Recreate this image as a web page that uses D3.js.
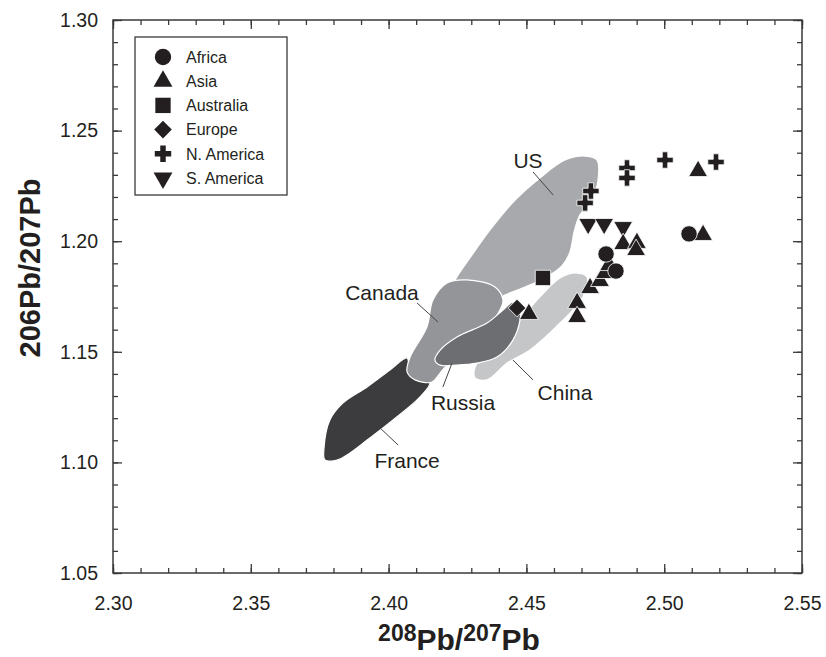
<!DOCTYPE html>
<html>
<head>
<meta charset="utf-8">
<script src="https://cdn.jsdelivr.net/npm/d3@7"></script>
<style>
  html, body { margin: 0; padding: 0; background: #fff; }
  svg { display: block; font-family: "Liberation Sans", Arial, Helvetica, sans-serif; }
</style>
</head>
<body>
<svg id="chart" width="826" height="657"></svg>
<script>
// Lead isotope ratios: 208Pb/207Pb (x) versus 206Pb/207Pb (y)

const xMajorTicks = [2.30, 2.35, 2.40, 2.45, 2.50, 2.55];
const yMajorTicks = [1.05, 1.10, 1.15, 1.20, 1.25, 1.30];
const xTickLabels = ["2.30", "2.35", "2.40", "2.45", "2.50", "2.55"];
const yTickLabels = ["1.05", "1.10", "1.15", "1.20", "1.25", "1.30"];

const legendNames = ["Africa", "Asia", "Australia", "Europe", "N. America", "S. America"];

// Sample measurements per continent: [208Pb/207Pb, 206Pb/207Pb]
const africa = [[2.4789, 1.1942], [2.4825, 1.1865], [2.5090, 1.2033]];
const asia = [
  [2.4509, 1.1671], [2.4684, 1.1721], [2.4684, 1.1657], [2.4731, 1.1788],
  [2.4767, 1.1820], [2.4785, 1.1856], [2.4800, 1.1892], [2.4851, 1.1987],
  [2.4901, 1.1992], [2.4898, 1.1960], [2.5123, 1.2317], [2.5141, 1.2028]
];
const australia = [[2.4560, 1.1834]];
const europe = [[2.4466, 1.1698]];
const nAmerica = [
  [2.4865, 1.2331], [2.4865, 1.2286], [2.5003, 1.2367],
  [2.5188, 1.2358], [2.4734, 1.2227], [2.4713, 1.2173]
];
const sAmerica = [[2.4724, 1.2078], [2.4782, 1.2078], [2.4851, 1.2064]];

// Ore-field outlines per country (boundary vertices)
const usField = [
  [2.4713, 1.2385], [2.4756, 1.2367], [2.4760, 1.2277], [2.4738, 1.2186],
  [2.4694, 1.2118], [2.4673, 1.2042], [2.4658, 1.1951], [2.4629, 1.1888],
  [2.4567, 1.1834], [2.4495, 1.1793], [2.4422, 1.1757], [2.4295, 1.1689],
  [2.4205, 1.1734], [2.4241, 1.1825], [2.4295, 1.1924], [2.4368, 1.2051],
  [2.4459, 1.2186], [2.4549, 1.2286], [2.4640, 1.2367]
];
const canadaField = [
  [2.4212, 1.1811], [2.4284, 1.1825], [2.4386, 1.1793], [2.4415, 1.1734],
  [2.4404, 1.1689], [2.4350, 1.1599], [2.4259, 1.1508], [2.4187, 1.1404],
  [2.4157, 1.1363], [2.4096, 1.1373], [2.4067, 1.1409], [2.4078, 1.1476],
  [2.4139, 1.1612], [2.4161, 1.1734]
];
const russiaField = [
  [2.4168, 1.1463], [2.4187, 1.1508], [2.4248, 1.1567], [2.4357, 1.1630],
  [2.4415, 1.1689], [2.4451, 1.1725], [2.4477, 1.1703], [2.4477, 1.1644],
  [2.4451, 1.1553], [2.4393, 1.1476], [2.4321, 1.1449], [2.4248, 1.1440],
  [2.4187, 1.1440]
];
const chinaField = [
  [2.4684, 1.1856], [2.4720, 1.1838], [2.4705, 1.1748], [2.4622, 1.1630],
  [2.4513, 1.1508], [2.4430, 1.1449], [2.4357, 1.1373], [2.4314, 1.1382],
  [2.4314, 1.1431], [2.4368, 1.1522], [2.4466, 1.1630], [2.4549, 1.1748],
  [2.4622, 1.1834]
];
const franceField = [
  [2.4067, 1.1472], [2.4078, 1.1404], [2.4150, 1.1363], [2.4114, 1.1296],
  [2.4016, 1.1192], [2.3922, 1.1101], [2.3860, 1.1043], [2.3813, 1.1011],
  [2.3769, 1.1011], [2.3766, 1.1070], [2.3787, 1.1192], [2.3835, 1.1269],
  [2.3922, 1.1341], [2.4005, 1.1418]
];

// Field labels: name, text anchor, leader line start and end
const fieldLabels = [
  { name: "US",     at: [2.4506, 1.2367], from: [2.4524, 1.2313], to: [2.4597, 1.2209] },
  { name: "Canada", at: [2.3976, 1.1770], from: [2.4103, 1.1721], to: [2.4179, 1.1635] },
  { name: "Russia", at: [2.4270, 1.1269], from: [2.4197, 1.1341], to: [2.4230, 1.1449] },
  { name: "France", at: [2.4067, 1.1011], from: [2.4034, 1.1079], to: [2.3969, 1.1156] },
  { name: "China",  at: [2.4640, 1.1318], from: [2.4524, 1.1373], to: [2.4451, 1.1463] }
];

const svg = d3.select("#chart");
const plot = { left: 113, right: 802, top: 20, bottom: 573 };

const x = d3.scaleLinear().domain([2.30, 2.55]).range([plot.left, plot.right]);
const y = d3.scaleLinear().domain([1.05, 1.30]).range([plot.bottom, plot.top]);

const xMinor = d3.range(0, 26).map(i => +(2.30 + i * 0.01).toFixed(2));
const yMinor = d3.range(0, 26).map(i => +(1.05 + i * 0.01).toFixed(2));

const ink = "#231f20";
const frame = "#3a3a3a";

// Fields
const area = d3.line()
  .x(d => x(d[0])).y(d => y(d[1]))
  .curve(d3.curveCatmullRomClosed.alpha(0.5));

const fields = [
  { pts: usField, fill: "#a7a9ac" },
  { pts: franceField, fill: "#3c3c3e" },
  { pts: chinaField, fill: "#c5c6c8" },
  { pts: canadaField, fill: "#939598" },
  { pts: russiaField, fill: "#6d6e71" }
];
svg.append("g").selectAll("path").data(fields).join("path")
  .attr("d", d => area(d.pts))
  .attr("fill", d => d.fill)
  .attr("stroke", "#ffffff")
  .attr("stroke-width", 1.2);

// Leader lines and field names
const lab = svg.append("g");
lab.selectAll("line").data(fieldLabels).join("line")
  .attr("x1", d => x(d.from[0])).attr("y1", d => y(d.from[1]))
  .attr("x2", d => x(d.to[0])).attr("y2", d => y(d.to[1]))
  .attr("stroke", "#444").attr("stroke-width", 1);
lab.selectAll("text").data(fieldLabels).join("text")
  .attr("x", d => x(d.at[0])).attr("y", d => y(d.at[1]))
  .attr("text-anchor", "middle").attr("dy", "0.36em")
  .attr("font-size", 21).attr("fill", ink)
  .text(d => d.name);

// Symbols
const sym = {
  "Africa":     { type: d3.symbolCircle,   size: 210, rot: 0 },
  "Asia":       { type: d3.symbolTriangle, size: 155, rot: 0 },
  "Australia":  { type: d3.symbolSquare,   size: 235, rot: 0 },
  "Europe":     { type: d3.symbolSquare,   size: 155, rot: 45 },
  "N. America": { type: d3.symbolCross,    size: 150, rot: 0 },
  "S. America": { type: d3.symbolTriangle, size: 155, rot: 180 }
};
const seriesData = [
  ["S. America", sAmerica], ["N. America", nAmerica], ["Asia", asia],
  ["Africa", africa], ["Australia", australia], ["Europe", europe]
];
const pts = svg.append("g");
seriesData.forEach(([name, arr]) => {
  const s = sym[name];
  pts.append("g").selectAll("path").data(arr).join("path")
    .attr("d", d3.symbol().type(s.type).size(s.size))
    .attr("transform", d => `translate(${x(d[0])},${y(d[1])}) rotate(${s.rot})`)
    .attr("fill", ink)
    .attr("stroke", "#ffffff")
    .attr("stroke-width", 0.8);
});

// Axes with inward ticks on all sides
function styleAxis(g) {
  g.select(".domain").remove();
  g.selectAll("line").attr("stroke", frame).attr("stroke-width", 1.3);
}
const fmtX = d => xTickLabels[xMajorTicks.findIndex(v => Math.abs(v - d) < 1e-9)];
const fmtY = d => yTickLabels[yMajorTicks.findIndex(v => Math.abs(v - d) < 1e-9)];

svg.append("g").attr("transform", `translate(0,${plot.bottom})`)
  .call(d3.axisBottom(x).tickValues(xMinor).tickSize(-5).tickFormat(""))
  .call(styleAxis);
svg.append("g").attr("transform", `translate(0,${plot.bottom})`)
  .call(d3.axisBottom(x).tickValues(xMajorTicks).tickSize(-9).tickPadding(23).tickFormat(fmtX))
  .call(styleAxis)
  .call(g => g.selectAll("text").attr("font-size", 19.5).attr("fill", ink).attr("font-family", "Liberation Sans, Arial, sans-serif"));
svg.append("g").attr("transform", `translate(0,${plot.top})`)
  .call(d3.axisTop(x).tickValues(xMinor).tickSize(-5).tickFormat(""))
  .call(styleAxis);
svg.append("g").attr("transform", `translate(0,${plot.top})`)
  .call(d3.axisTop(x).tickValues(xMajorTicks).tickSize(-9).tickFormat(""))
  .call(styleAxis);

svg.append("g").attr("transform", `translate(${plot.left},0)`)
  .call(d3.axisLeft(y).tickValues(yMinor).tickSize(-5).tickFormat(""))
  .call(styleAxis);
svg.append("g").attr("transform", `translate(${plot.left},0)`)
  .call(d3.axisLeft(y).tickValues(yMajorTicks).tickSize(-9).tickPadding(15).tickFormat(fmtY))
  .call(styleAxis)
  .call(g => g.selectAll("text").attr("font-size", 19.5).attr("fill", ink).attr("font-family", "Liberation Sans, Arial, sans-serif"));
svg.append("g").attr("transform", `translate(${plot.right},0)`)
  .call(d3.axisRight(y).tickValues(yMinor).tickSize(-5).tickFormat(""))
  .call(styleAxis);
svg.append("g").attr("transform", `translate(${plot.right},0)`)
  .call(d3.axisRight(y).tickValues(yMajorTicks).tickSize(-9).tickFormat(""))
  .call(styleAxis);

// Frame
svg.append("rect")
  .attr("x", plot.left).attr("y", plot.top)
  .attr("width", plot.right - plot.left).attr("height", plot.bottom - plot.top)
  .attr("fill", "none").attr("stroke", frame).attr("stroke-width", 1.5);

// Axis titles
const xt = svg.append("text")
  .attr("x", 459).attr("y", 650)
  .attr("text-anchor", "middle").attr("font-weight", "bold").attr("fill", ink)
  .attr("font-size", 30);
xt.append("tspan").attr("font-size", 23).attr("dy", -9).text("208");
xt.append("tspan").attr("dy", 9).text("Pb/");
xt.append("tspan").attr("font-size", 23).attr("dy", -9).text("207");
xt.append("tspan").attr("dy", 9).text("Pb");

svg.append("text")
  .attr("transform", `translate(40,268) rotate(-90)`)
  .attr("text-anchor", "middle").attr("font-weight", "bold").attr("fill", ink)
  .attr("font-size", 29)
  .text("206Pb/207Pb");

// Legend
const legend = svg.append("g");
legend.append("rect")
  .attr("x", 135).attr("y", 37).attr("width", 152).attr("height", 158)
  .attr("fill", "#fff").attr("stroke", frame).attr("stroke-width", 1.3);
const rowY = d3.scalePoint().domain(legendNames).range([57, 178]);
const rows = legend.selectAll("g.row").data(legendNames).join("g")
  .attr("class", "row")
  .attr("transform", d => `translate(0,${rowY(d)})`);
rows.append("path")
  .attr("d", d => d3.symbol().type(sym[d].type).size(sym[d].size)())
  .attr("transform", d => `translate(163,0) rotate(${sym[d].rot})`)
  .attr("fill", ink);
rows.append("text")
  .attr("x", 186).attr("dy", "0.36em")
  .attr("font-size", 16).attr("fill", ink)
  .text(d => d);
</script>
</body>
</html>
